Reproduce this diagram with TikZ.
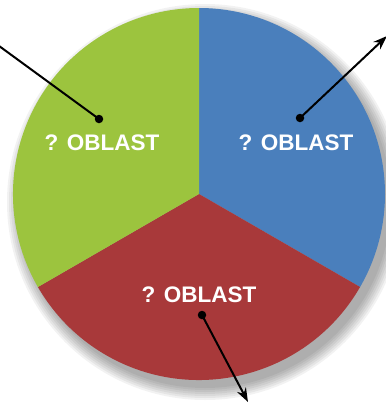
\documentclass[tikz,border=0pt]{standalone}
\usepackage{fontspec}
\setmainfont{Liberation Sans}
\usetikzlibrary{arrows.meta}
\definecolor{pgreen}{HTML}{9CC43E}
\definecolor{pblue}{HTML}{4A7FBC}
\definecolor{pred}{HTML}{A8393A}
\tikzset{
  lbl/.style={text=white, font=\fontsize{22.5}{24}\selectfont\bfseries, inner sep=0pt},
  dotnode/.style={circle, fill=black, inner sep=0pt, minimum size=8.5pt},
  conn/.style={draw=black, line width=2pt},
  arr/.style={conn, -{Stealth[length=14pt, width=10pt]}},
}
\begin{document}
\begin{tikzpicture}[x=1pt, y=-1pt]
\useasboundingbox (0,0) rectangle (386,405);
\clip (0,0) rectangle (386,405);
\fill[white] (0,0) rectangle (386,405);
\coordinate (c) at (199,194);
% shadow
\foreach \r in {186,188,...,198}{
  \fill[black, opacity=0.05] (205,202) circle[radius=\r];
}
% sectors
\fill[pblue] (c) -- +(-90:186) arc[start angle=-90, end angle=30, radius=186] -- cycle;
\fill[pred] (c) -- +(30:186) arc[start angle=30, end angle=150, radius=186] -- cycle;
\fill[pgreen] (c) -- +(150:186) arc[start angle=150, end angle=270, radius=186] -- cycle;
% labels
\node[lbl] (tl) at (102,143) {? OBLAST};
\node[lbl] (tr) at (296,143) {? OBLAST};
\node[lbl] (tb) at (199,295) {? OBLAST};
% dots and connectors
\node[dotnode] (dl) at (99,119) {};
\node[dotnode] (dr) at (300,118) {};
\node[dotnode] (db) at (202,315) {};
\coordinate (el) at (-5,43);
\coordinate (er) at (387,36);
\coordinate (eb) at (248,402);
\draw[conn] (dl.center) -- (el);
\draw[arr] (dr.center) -- (er);
\draw[arr] (db.center) -- (eb);
\end{tikzpicture}
\end{document}
